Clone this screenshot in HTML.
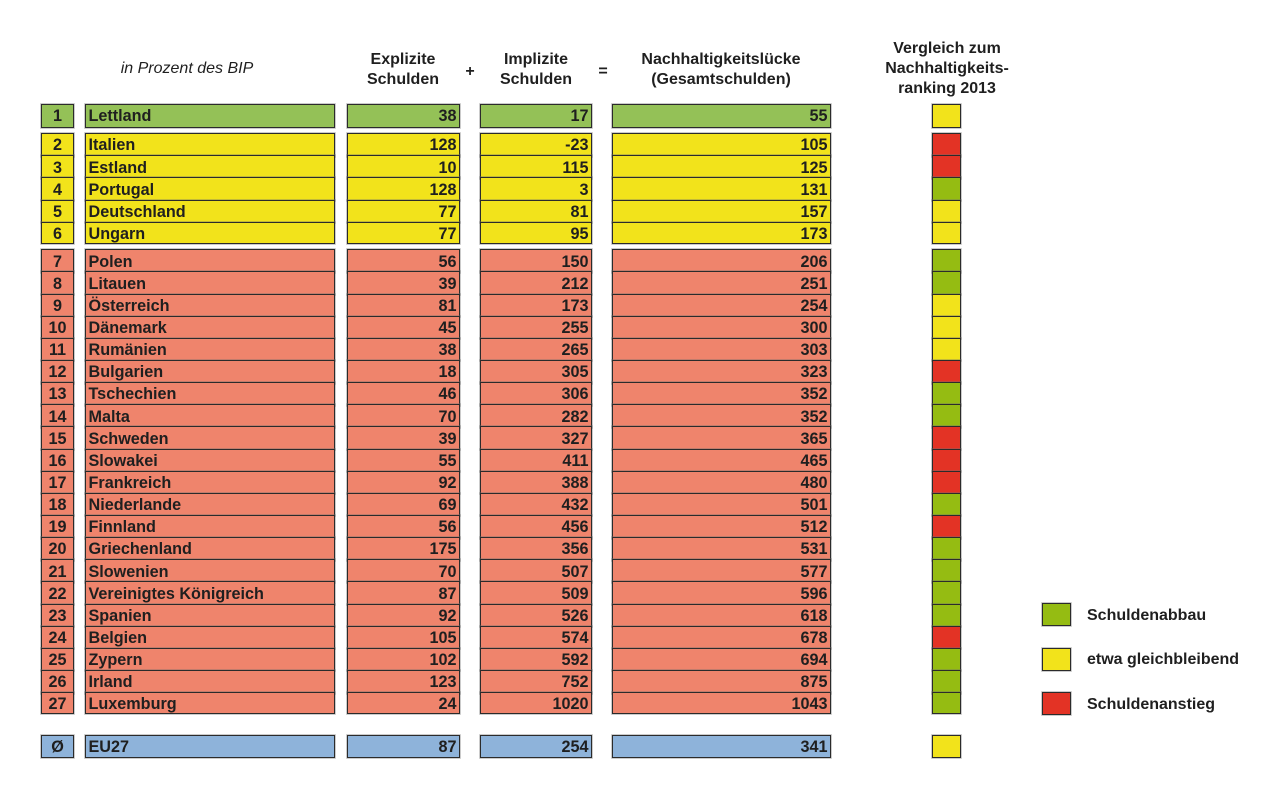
<!DOCTYPE html>
<html><head><meta charset="utf-8"><style>
*{margin:0;padding:0;box-sizing:border-box}
body{width:1280px;height:800px;background:#fff;position:relative;overflow:hidden;font-family:"Liberation Sans",Arial,sans-serif;color:#1f1f1f}
.h{position:absolute;font-weight:bold;font-size:16px;line-height:20px;text-align:center;white-space:nowrap}
.r{position:absolute;left:0;width:1280px}
.c{position:absolute;top:0;height:100%;border:1.5px solid #2b2b2b;box-shadow:0 0 0 0.8px rgba(110,110,110,0.45);font-weight:bold;font-size:16.2px;display:flex;align-items:center;white-space:nowrap;padding-top:2px}
.k{left:41px;width:33px;justify-content:center}
.n{left:85px;width:250px;padding-left:2.5px}
.e{left:347px;width:113px;justify-content:flex-end;padding-right:2.5px}
.i{left:480px;width:112px;justify-content:flex-end;padding-right:2.5px}
.t{left:612px;width:219px;justify-content:flex-end;padding-right:2.5px}
.q{left:932px;width:29px}
.G .k,.G .n,.G .e,.G .i,.G .t{background:#94c157}
.Y .k,.Y .n,.Y .e,.Y .i,.Y .t{background:#f2e31b}
.S .k,.S .n,.S .e,.S .i,.S .t{background:#ef846c}
.B .k,.B .n,.B .e,.B .i,.B .t{background:#8eb3da}
.qg{background:#95bc12}
.qy{background:#f2e31b}
.qr{background:#e33325}
.a{height:23.7px}
.b{height:23.6px}
.lg{position:absolute;left:1042px;width:29px;height:23px;border:1.5px solid #2b2b2b;box-shadow:0 0 0 0.8px rgba(110,110,110,0.45)}
.lt{position:absolute;left:1087px;font-weight:bold;font-size:16px;line-height:20px;white-space:nowrap}
</style></head><body>

<div class="h" style="left:80px;top:59px;width:214px;font-weight:normal;font-style:italic">in Prozent des BIP</div>
<div class="h" style="left:343px;top:50px;width:120px">Explizite<br>Schulden</div>
<div class="h" style="left:460px;top:62px;width:20px">+</div>
<div class="h" style="left:476px;top:50px;width:120px">Implizite<br>Schulden</div>
<div class="h" style="left:593px;top:62px;width:20px">=</div>
<div class="h" style="left:621px;top:50px;width:200px">Nachhaltigkeitslücke<br>(Gesamtschulden)</div>
<div class="h" style="left:872px;top:39px;width:150px">Vergleich zum<br>Nachhaltigkeits-<br>ranking 2013</div>

<div class="r G" style="top:104px;height:23.5px"><div class="c k">1</div><div class="c n">Lettland</div><div class="c e">38</div><div class="c i">17</div><div class="c t">55</div><div class="c q qy"></div></div>

<div class="r Y a" style="top:133px"><div class="c k">2</div><div class="c n">Italien</div><div class="c e">128</div><div class="c i">-23</div><div class="c t">105</div><div class="c q qr"></div></div>
<div class="r Y a" style="top:155.2px"><div class="c k">3</div><div class="c n">Estland</div><div class="c e">10</div><div class="c i">115</div><div class="c t">125</div><div class="c q qr"></div></div>
<div class="r Y a" style="top:177.4px"><div class="c k">4</div><div class="c n">Portugal</div><div class="c e">128</div><div class="c i">3</div><div class="c t">131</div><div class="c q qg"></div></div>
<div class="r Y a" style="top:199.6px"><div class="c k">5</div><div class="c n">Deutschland</div><div class="c e">77</div><div class="c i">81</div><div class="c t">157</div><div class="c q qy"></div></div>
<div class="r Y" style="top:221.8px;height:22.4px"><div class="c k">6</div><div class="c n">Ungarn</div><div class="c e">77</div><div class="c i">95</div><div class="c t">173</div><div class="c q qy"></div></div>

<div class="r S b" style="top:249.3px"><div class="c k">7</div><div class="c n">Polen</div><div class="c e">56</div><div class="c i">150</div><div class="c t">206</div><div class="c q qg"></div></div>
<div class="r S b" style="top:271.44px"><div class="c k">8</div><div class="c n">Litauen</div><div class="c e">39</div><div class="c i">212</div><div class="c t">251</div><div class="c q qg"></div></div>
<div class="r S b" style="top:293.59px"><div class="c k">9</div><div class="c n">Österreich</div><div class="c e">81</div><div class="c i">173</div><div class="c t">254</div><div class="c q qy"></div></div>
<div class="r S b" style="top:315.73px"><div class="c k">10</div><div class="c n">Dänemark</div><div class="c e">45</div><div class="c i">255</div><div class="c t">300</div><div class="c q qy"></div></div>
<div class="r S b" style="top:337.87px"><div class="c k">11</div><div class="c n">Rumänien</div><div class="c e">38</div><div class="c i">265</div><div class="c t">303</div><div class="c q qy"></div></div>
<div class="r S b" style="top:360.01px"><div class="c k">12</div><div class="c n">Bulgarien</div><div class="c e">18</div><div class="c i">305</div><div class="c t">323</div><div class="c q qr"></div></div>
<div class="r S b" style="top:382.16px"><div class="c k">13</div><div class="c n">Tschechien</div><div class="c e">46</div><div class="c i">306</div><div class="c t">352</div><div class="c q qg"></div></div>
<div class="r S b" style="top:404.3px"><div class="c k">14</div><div class="c n">Malta</div><div class="c e">70</div><div class="c i">282</div><div class="c t">352</div><div class="c q qg"></div></div>
<div class="r S b" style="top:426.44px"><div class="c k">15</div><div class="c n">Schweden</div><div class="c e">39</div><div class="c i">327</div><div class="c t">365</div><div class="c q qr"></div></div>
<div class="r S b" style="top:448.59px"><div class="c k">16</div><div class="c n">Slowakei</div><div class="c e">55</div><div class="c i">411</div><div class="c t">465</div><div class="c q qr"></div></div>
<div class="r S b" style="top:470.73px"><div class="c k">17</div><div class="c n">Frankreich</div><div class="c e">92</div><div class="c i">388</div><div class="c t">480</div><div class="c q qr"></div></div>
<div class="r S b" style="top:492.87px"><div class="c k">18</div><div class="c n">Niederlande</div><div class="c e">69</div><div class="c i">432</div><div class="c t">501</div><div class="c q qg"></div></div>
<div class="r S b" style="top:515.02px"><div class="c k">19</div><div class="c n">Finnland</div><div class="c e">56</div><div class="c i">456</div><div class="c t">512</div><div class="c q qr"></div></div>
<div class="r S b" style="top:537.16px"><div class="c k">20</div><div class="c n">Griechenland</div><div class="c e">175</div><div class="c i">356</div><div class="c t">531</div><div class="c q qg"></div></div>
<div class="r S b" style="top:559.3px"><div class="c k">21</div><div class="c n">Slowenien</div><div class="c e">70</div><div class="c i">507</div><div class="c t">577</div><div class="c q qg"></div></div>
<div class="r S b" style="top:581.44px"><div class="c k">22</div><div class="c n">Vereinigtes Königreich</div><div class="c e">87</div><div class="c i">509</div><div class="c t">596</div><div class="c q qg"></div></div>
<div class="r S b" style="top:603.59px"><div class="c k">23</div><div class="c n">Spanien</div><div class="c e">92</div><div class="c i">526</div><div class="c t">618</div><div class="c q qg"></div></div>
<div class="r S b" style="top:625.73px"><div class="c k">24</div><div class="c n">Belgien</div><div class="c e">105</div><div class="c i">574</div><div class="c t">678</div><div class="c q qr"></div></div>
<div class="r S b" style="top:647.87px"><div class="c k">25</div><div class="c n">Zypern</div><div class="c e">102</div><div class="c i">592</div><div class="c t">694</div><div class="c q qg"></div></div>
<div class="r S b" style="top:670.02px"><div class="c k">26</div><div class="c n">Irland</div><div class="c e">123</div><div class="c i">752</div><div class="c t">875</div><div class="c q qg"></div></div>
<div class="r S" style="top:692.16px;height:22.3px"><div class="c k">27</div><div class="c n">Luxemburg</div><div class="c e">24</div><div class="c i">1020</div><div class="c t">1043</div><div class="c q qg"></div></div>

<div class="r B" style="top:735px;height:22.5px"><div class="c k">Ø</div><div class="c n">EU27</div><div class="c e">87</div><div class="c i">254</div><div class="c t">341</div><div class="c q qy"></div></div>

<div class="lg qg" style="top:603px"></div><div class="lt" style="top:606px">Schuldenabbau</div>
<div class="lg qy" style="top:648px"></div><div class="lt" style="top:650px">etwa gleichbleibend</div>
<div class="lg qr" style="top:692px"></div><div class="lt" style="top:695px">Schuldenanstieg</div>

</body></html>
